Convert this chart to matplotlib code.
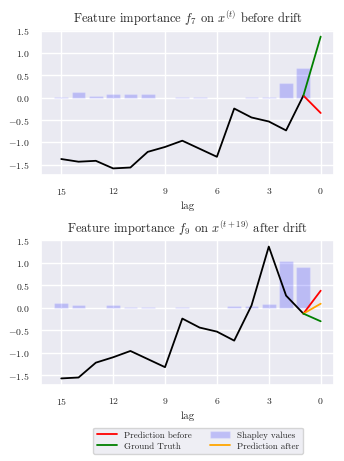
import matplotlib
matplotlib.use("Agg")
import matplotlib.pyplot as plt
import seaborn as sns
import numpy as np

sns.set_theme(style="darkgrid")
plt.rcParams["font.family"] = "serif"
plt.rcParams["font.serif"] = ["cmr10", "DejaVu Serif"]
plt.rcParams["mathtext.fontset"] = "cm"
plt.rcParams["axes.formatter.use_mathtext"] = True

lags = [15, 14, 13, 12, 11, 10, 9, 8, 7, 6, 5, 4, 3, 2, 1]

# Before drift
series_before = [-1.37, -1.43, -1.41, -1.58, -1.56, -1.21, -1.10, -0.96, -1.14, -1.32,
                 -0.24, -0.44, -0.53, -0.73, 0.05]
shap_before = [0.01, 0.13, 0.045, 0.09, 0.08, 0.08, 0.005, 0.02, 0.015, 0.005,
               0.005, 0.02, 0.02, 0.33, 0.67]
truth_before = 1.37
pred_before_before = -0.34

# After drift
series_after = [-1.57, -1.55, -1.22, -1.10, -0.96, -1.14, -1.32, -0.24, -0.44, -0.53,
                -0.73, 0.05, 1.36, 0.27, -0.13]
shap_after = [0.10, 0.07, 0.0, 0.06, 0.01, 0.01, 0.0, 0.01, 0.0, 0.0,
              0.05, 0.03, 0.08, 1.05, 0.90]
truth_after = -0.30
pred_before_after = 0.38
pred_after_after = 0.09

fig = plt.figure(figsize=(3.44, 4.61), dpi=100)
W, H = 344, 461
ax1 = fig.add_axes([41 / W, 1 - 175 / H, 293 / W, 145 / H])
ax2 = fig.add_axes([41 / W, 1 - 385 / H, 293 / W, 145 / H])

def draw(ax, series, shap, truth, preds, title):
    ax.bar(lags, shap, width=0.8, color="blue", alpha=0.2, label="Shapley values")
    ax.plot(lags, series, color="black", lw=1.3)
    last = series[-1]
    for val, col, lab in preds:
        ax.plot([1, 0], [last, val], color=col, lw=1.3, label=lab)
    ax.plot([1, 0], [last, truth], color="green", lw=1.3, label="Ground Truth")
    ax.set_xticks([15, 12, 9, 6, 3, 0])
    ax.invert_xaxis()
    ax.set_yticks([-1.5, -1.0, -0.5, 0.0, 0.5, 1.0, 1.5])
    ax.tick_params(labelsize=7, pad=2)
    ax.set_xlabel("lag", fontsize=8, labelpad=3)
    ax.set_title(title, fontsize=9, pad=5)

draw(ax1, series_before, shap_before, truth_before,
     [(pred_before_before, "red", "Prediction before")],
     r"Feature importance $f_7$ on $x^{(t)}$ before drift")
draw(ax2, series_after, shap_after, truth_after,
     [(pred_before_after, "red", "Prediction before"), (pred_after_after, "orange", "Prediction after")],
     r"Feature importance $f_9$ on $x^{(t+19)}$ after drift")

h, l = ax2.get_legend_handles_labels()
d = dict(zip(l, h))
order = ["Prediction before", "Ground Truth", "Shapley values", "Prediction after"]
fig.legend([d[k] for k in order], order, loc="upper center", ncol=2,
           bbox_to_anchor=(198 / W, 1 - 423 / H), fontsize=6.5, frameon=True,
           handlelength=2.2, columnspacing=2.0, borderpad=0.4, labelspacing=0.3)

fig.savefig("out.png", dpi=100)
